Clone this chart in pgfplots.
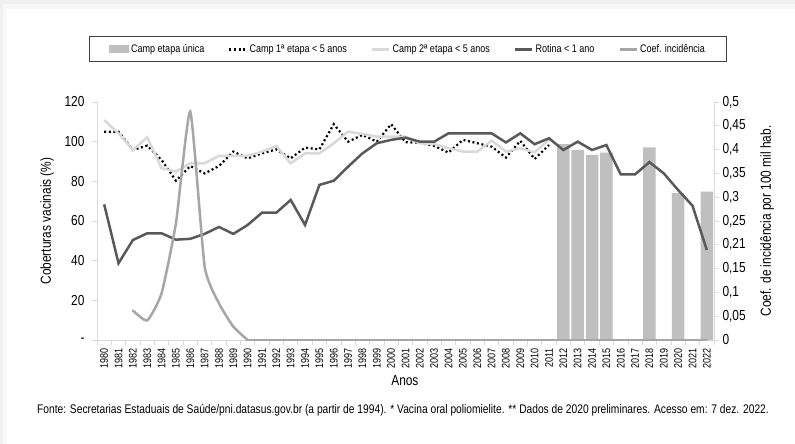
\documentclass[border=0pt]{standalone}
\usepackage{fontspec}
\setmainfont{Liberation Sans}[FakeStretch=0.82]
\usepackage{pgfplots}
\usepackage{pgfplotstable}
\pgfplotsset{compat=1.18}

\definecolor{barcol}{HTML}{BFBFBF}
\definecolor{rotcol}{HTML}{595959}
\definecolor{ctwocol}{HTML}{D9D9D9}
\definecolor{coefcol}{HTML}{A6A6A6}
\definecolor{axcol}{HTML}{D9D9D9}

% Camp etapa unica (%)
\pgfplotstableread{
ano v
2012 98.8
2013 95.8
2014 93.3
2015 94.5
2018 97.1
2020 74.0
2022 74.8
}\unica

% Camp 1a etapa < 5 anos (%)
\pgfplotstableread{
ano v
1980 105.0
1981 105.0
1982 95.8
1983 98.0
1984 90.8
1985 80.3
1986 87.7
1987 84.0
1988 87.7
1989 95.0
1990 91.6
1991 94.1
1992 96.1
1993 91.6
1994 97.0
1995 96.1
1996 108.8
1997 100.0
1998 103.4
1999 100.0
2000 108.8
2001 99.7
2002 99.5
2003 97.8
2004 94.5
2005 100.9
2006 99.2
2007 97.5
2008 92.0
2009 100.4
2010 91.3
2011 98.3
}\campum

% Camp 2a etapa < 5 anos (%)
\pgfplotstableread{
ano v
1980 110.9
1981 104.2
1982 95.8
1983 102.2
1984 86.6
1985 84.9
1986 89.1
1987 89.1
1988 92.8
1989 92.8
1990 92.8
1991 95.0
1992 97.8
1993 89.1
1994 94.1
1995 94.1
1996 99.2
1997 105.0
1998 103.9
1999 102.5
2000 102.5
2001 102.5
2002 99.2
2003 98.8
2004 96.7
2005 95.0
2006 95.0
2007 100.5
2008 95.0
2009 96.7
2010 94.6
2011 100.9
}\campdois

% Rotina < 1 ano (%)
\pgfplotstableread{
ano v
1980 68.4
1981 38.7
1982 50.4
1983 53.8
1984 53.8
1985 50.6
1986 51.0
1987 53.5
1988 57.0
1989 53.5
1990 58.0
1991 64.2
1992 64.2
1993 70.6
1994 58.0
1995 78.2
1996 80.3
1997 87.4
1998 94.1
1999 99.2
2000 100.9
2001 102.0
2002 100.0
2003 100.0
2004 104.2
2005 104.2
2006 104.2
2007 104.2
2008 99.6
2009 104.2
2010 98.7
2011 101.7
2012 95.8
2013 100.0
2014 95.8
2015 98.3
2016 83.5
2017 83.5
2018 89.7
2019 84.0
2020 75.6
2021 67.7
2022 45.4
}\rotina

% Coef. incidencia por 100 mil hab.
\pgfplotstableread{
ano v
1982 0.062
1983 0.041
1984 0.098
1985 0.245
1986 0.480
1987 0.155
1988 0.077
1989 0.028
1990 0
1991 0
1992 0
1993 0
1994 0
1995 0
1996 0
1997 0
1998 0
1999 0
2000 0
2001 0
2002 0
2003 0
2004 0
2005 0
2006 0
2007 0
2008 0
2009 0
2010 0
2011 0
2012 0
2013 0
2014 0
2015 0
2016 0
2017 0
2018 0
2019 0
2020 0
2021 0
2022 0
}\coef

\pgfplotsset{
  painel/.style={
    at={(97pt,104pt)}, anchor=south west,
    scale only axis, width=617pt, height=238pt,
    xmin=1979.5, xmax=2022.5,
    axis line style={-, draw=axcol, line width=0.8pt},
    tick style={draw=axcol, line width=0.8pt},
    tick align=outside,
    major tick length=5pt, minor tick length=5pt,
    /pgf/number format/assume math mode=true,
    /pgf/number format/1000 sep={},
    clip=false,
  },
}

\begin{document}
\begin{tikzpicture}[x=1pt,y=1pt]
\fill[black!6] (0,0) rectangle (795,444);
\fill[black!3] (3,0) rectangle (795,440);
\fill[white] (6,0) rectangle (795,435);
\path[use as bounding box] (0,0) rectangle (795,444);

\begin{axis}[painel,
  ymin=0, ymax=120,
  axis x line*=bottom, axis y line*=left,
  ytick={0,20,...,120}, yticklabels={-,20,40,60,80,100,120},
  yticklabel style={font=\fontsize{14.5}{16}\selectfont, xshift=-4pt},
  xtick={1980,1981,...,2022}, major x tick style={draw=none},
  minor xtick={1979.5,1980.5,...,2022.5},
  xticklabel style={rotate=90, anchor=east, font=\fontsize{11}{12}\selectfont},
  xlabel={Anos},
  xlabel style={at={(axis description cs:0.499,-0.172)}, anchor=center, font=\fontsize{14.5}{16}\selectfont},
  ylabel={Coberturas vacinais (\%)},
  ylabel style={at={(axis description cs:-0.081,0.5)}, anchor=center, font=\fontsize{14.5}{16}\selectfont},
  legend columns=5,
  legend style={at={(axis description cs:0.0194,1.2206)}, anchor=west, draw=none, fill=none,
    inner sep=0pt, font=\fontsize{11}{13}\selectfont,
    /tikz/every even column/.append style={column sep=22pt}},
]
\addplot[ybar, bar width=12.5pt, fill=barcol, draw=none,
  legend image code/.code={\fill[barcol] (0pt,-4pt) rectangle (20pt,4pt);}]
  table[x=ano, y=v] {\unica};
\addlegendentry{Camp etapa única}
\addplot[black, line width=2.2pt, dash pattern=on 2pt off 2.6pt] table[x=ano, y=v] {\campum};
\addlegendentry{Camp 1ª etapa < 5 anos}
\addplot[ctwocol, line width=2.5pt] table[x=ano, y=v] {\campdois};
\addlegendentry{Camp 2ª etapa < 5 anos}
\addplot[rotcol, line width=2.5pt] table[x=ano, y=v] {\rotina};
\addlegendentry{Rotina < 1 ano}
\addlegendimage{coefcol, line width=2.5pt}
\addlegendentry{Coef. incidência}
\end{axis}

\begin{axis}[painel,
  ymin=0, ymax=0.5,
  axis x line=none, axis y line*=right,
  ytick={0,0.05,...,0.5},
  yticklabels={0,{0,05},{0,1},{0,15},{0,21},{0,25},{0,3},{0,35},{0,4},{0,45},{0,5}},
  yticklabel style={font=\fontsize{14.5}{16}\selectfont},
  ylabel={Coef. de incidência por 100 mil hab.},
  ylabel style={at={(axis description cs:1.086,0.5)}, anchor=center, rotate=0, font=\fontsize{14.5}{16}\selectfont},
]
\addplot[coefcol, line width=2.5pt, smooth, tension=0.3, restrict x to domain=1982:1990, line cap=round]
  table[x=ano, y=v] {\coef};
\addplot[coefcol, line width=2.5pt, restrict x to domain=1990:2022, line cap=round]
  table[x=ano, y=v] {\coef};
\end{axis}

\draw[black!75, line width=1pt] (89,382) rectangle (726,407);
\node[font=\fontsize{12.5}{14}\selectfont] at (403,34) {Fonte: Secretarias Estaduais de Saúde/pni.datasus.gov.br (a partir de 1994). * Vacina oral poliomielite. ** Dados de 2020 preliminares. Acesso em: 7 dez. 2022.};
\end{tikzpicture}
\end{document}
